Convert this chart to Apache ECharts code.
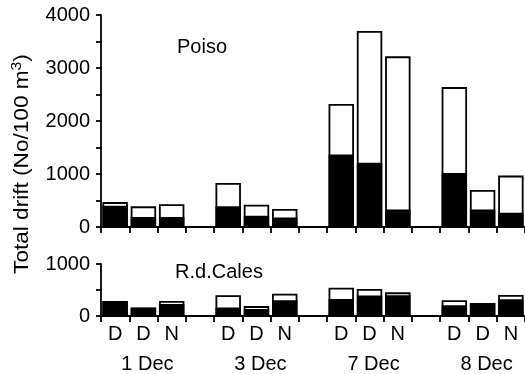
<!DOCTYPE html>
<html>
<head>
<meta charset="utf-8">
<script src="https://cdn.jsdelivr.net/npm/echarts@6/dist/echarts.min.js"></script>
<style>
html,body{margin:0;padding:0;background:#fff;}
#chart{width:525px;height:374px;}
</style>
</head>
<body>
<div id="chart"></div>
<script>
var categories = ['D','D','N','','D','D','N','','D','D','N','','D','D','N'];
var dateLabels = ['1 Dec','3 Dec','7 Dec','8 Dec'];
var dateIndex = [1, 5, 9, 13];
var poisoTotal = [470, 390, 430, null, 830, 420, 340, null, 2320, 3700, 3220, null, 2640, 700, 970];
var poisoBlack = [400, 190, 190, null, 390, 210, 180, null, 1370, 1210, 330, null, 1020, 330, 270];
var calesTotal = [290, 165, 290, null, 400, 190, 430, null, 545, 520, 455, null, 305, 250, 405];
var calesBlack = [280, 160, 230, null, 165, 135, 305, null, 325, 395, 400, null, 205, 250, 320];

var FONT = 'Liberation Sans';
var FS = 20;
var chart = echarts.init(document.getElementById('chart'));

function yAxis(grid, max) {
  return {
    type: 'value', gridIndex: grid, min: 0, max: max, interval: 1000,
    axisLine: {show: true, lineStyle: {color: '#000', width: 1.8}},
    axisTick: {show: true, length: 5, lineStyle: {color: '#000', width: 1.8}},
    minorTick: {show: true, splitNumber: 2, length: 5, lineStyle: {color: '#000', width: 1.8}},
    splitLine: {show: false},
    axisLabel: {color: '#000', fontFamily: FONT, fontSize: FS, margin: 11,
      formatter: function (v) { return String(v); }}
  };
}
function xAxis(grid, showLabel) {
  return {
    type: 'category', gridIndex: grid, data: categories, boundaryGap: true,
    axisLine: {show: true, onZero: false, lineStyle: {color: '#000', width: 1.8}},
    axisTick: {show: true, length: 6, alignWithLabel: false, interval: 0, lineStyle: {color: '#000', width: 1.8}},
    axisLabel: {show: showLabel, interval: 0, color: '#000', fontFamily: FONT, fontSize: FS, lineHeight: 20, margin: 8}
  };
}
var xDate = {
  type: 'category', gridIndex: 1, data: categories, position: 'bottom', offset: 30,
  axisLine: {show: false}, axisTick: {show: false},
  axisLabel: {show: true, interval: 0, color: '#000', fontFamily: FONT, fontSize: FS, lineHeight: 20, margin: 8,
    padding: [0, 0, 0, 8],
    formatter: function (v, i) { var k = dateIndex.indexOf(i); return k >= 0 ? dateLabels[k] : ''; }}
};

function bars(x, y, data, color) {
  return {
    type: 'bar', xAxisIndex: x, yAxisIndex: y, data: data,
    barCategoryGap: '10%', barGap: '-100%',
    itemStyle: {color: color, borderColor: '#000', borderWidth: 1.8},
    animation: false
  };
}

chart.setOption({
  animation: false,
  grid: [
    {left: 101, top: 15, width: 426, height: 212},
    {left: 101, top: 264, width: 426, height: 52}
  ],
  xAxis: [xAxis(0, false), xAxis(1, true), xDate],
  yAxis: [yAxis(0, 4000), yAxis(1, 1000)],
  series: [
    bars(0, 0, poisoTotal, '#fff'),
    bars(0, 0, poisoBlack, '#000'),
    bars(1, 1, calesTotal, '#fff'),
    bars(1, 1, calesBlack, '#000')
  ],
  graphic: [
    {type: 'text', x: 22, y: 164, rotation: Math.PI / 2, scaleX: 1.13,
      style: {text: 'Total drift (No/100 m{sup|3})', fontFamily: FONT, fontSize: FS, fill: '#000',
        align: 'center', verticalAlign: 'middle',
        rich: {sup: {fontFamily: FONT, fontSize: 14, verticalAlign: 'top', padding: [0, 0, 10, 0]}}}},
    {type: 'text', x: 202, y: 47,
      style: {text: 'Poiso', fontFamily: FONT, fontSize: FS, fill: '#000', align: 'center', verticalAlign: 'middle'}},
    {type: 'text', x: 219, y: 272,
      style: {text: 'R.d.Cales', fontFamily: FONT, fontSize: FS, fill: '#000', align: 'center', verticalAlign: 'middle'}}
  ]
});
</script>
</body>
</html>
